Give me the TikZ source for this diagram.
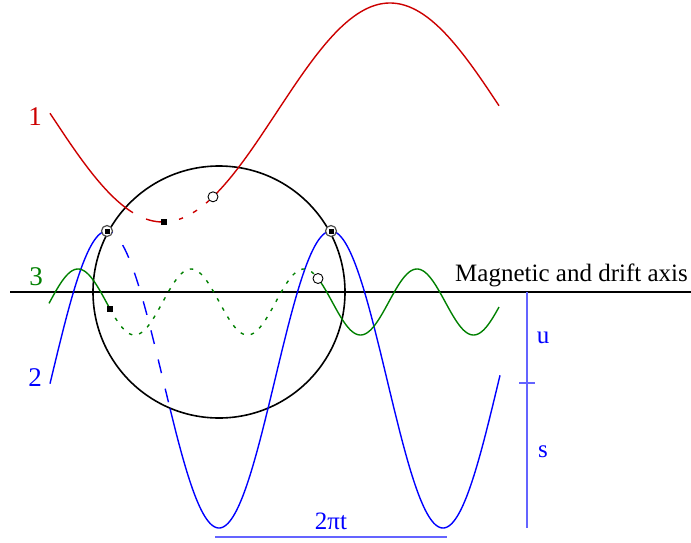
\documentclass[tikz,border=0pt]{standalone}
\usepackage{fontspec}
\setmainfont{Liberation Serif}
\definecolor{cred}{RGB}{204,0,0}
\definecolor{cgreen}{RGB}{0,128,0}
\definecolor{cblue}{RGB}{0,0,255}
\definecolor{cscale}{RGB}{100,100,255}
\begin{document}
\begin{tikzpicture}[x=1pt,y=-1pt,
  declare function={
    redf(\t)=112.5+109.5*cos((\t-163)*0.79295);
    bluef(\t)=379.5-148.5*cos((\t-107)*1.60714);
    greenf(\t)=302-33*cos((\t-78)*3.18584);
  },
  curve/.style={line width=1.4pt,smooth,line join=round},
  lbl/.style={font=\fontsize{25}{30}\selectfont,inner sep=0pt},
  numlbl/.style={font=\fontsize{27}{32}\selectfont,inner sep=0pt},
  sqmark/.style={fill=black,draw=none,minimum size=6pt,inner sep=0pt,rectangle},
  openmark/.style={circle,draw=black,line width=0.9pt,fill=white,minimum size=10pt,inner sep=0pt},
  ringmark/.style={circle,draw=black!70,line width=1.2pt,fill=white,minimum size=11pt,inner sep=0pt},
  greendots/.style={dash pattern=on 3.5pt off 7pt},
]
\useasboundingbox (0,0) rectangle (691,542);

% axis
\coordinate (axL) at (10,292);
\coordinate (axR) at (691,292);
\draw[line width=1.5pt] (axL) -- (axR);

% circle
\node[circle,draw=black,line width=1.6pt,minimum size=252pt,inner sep=0pt] (orbit) at (219,292) {};

% red curve (1)
\draw[cred,curve] plot[domain=50:133,samples=60] (\x,{redf(\x)});
\draw[cred,curve] plot[domain=146:164,samples=20] (\x,{redf(\x)});
\foreach \a/\b in {179/183,193/197,206/209}
  \draw[cred,curve] plot[domain=\a:\b,samples=5] (\x,{redf(\x)});
\draw[cred,curve] plot[domain=213:499,samples=150] (\x,{redf(\x)});

% blue curve (2)
\draw[cblue,curve] plot[domain=50:107,samples=50] (\x,{bluef(\x)});
\draw[cblue,curve,dash pattern=on 14pt off 16pt,dash phase=-22pt] plot[domain=107:170,samples=60] (\x,{bluef(\x)});
\draw[cblue,curve] plot[domain=170:500,samples=200] (\x,{bluef(\x)});

% green curve (3)
\draw[cgreen,curve] plot[domain=49:110,samples=50] (\x,{greenf(\x)});
\draw[cgreen,curve,greendots] plot[domain=110:318,samples=150] (\x,{greenf(\x)});
\draw[cgreen,curve] plot[domain=318:499,samples=150] (\x,{greenf(\x)});

% markers
\node[sqmark] (rsq) at (164,{redf(164)}) {};
\node[openmark] (rci) at (213,{redf(213)}) {};
\node[sqmark] (gsq) at (110,{greenf(110)}) {};
\node[openmark] (gci) at (318,{greenf(318)}) {};
\node[ringmark] (bp1) at (107,231) {};
\node[sqmark,minimum size=5pt] (bq1) at (bp1) {};
\node[ringmark] (bp2) at (331,231) {};
\node[sqmark,minimum size=5pt] (bq2) at (bp2) {};

% labels
\node[numlbl,text=cred] (l1) at (35,117) {1};
\node[numlbl,text=cgreen] (l3) at (36,277) {3};
\node[numlbl,text=cblue] (l2) at (35,378) {2};
\node[lbl,anchor=base east] (axlbl) at (688,281) {Magnetic and drift axis};

% scale
\coordinate (sTop) at (527,292);
\coordinate (sMid) at (527,383);
\coordinate (sBot) at (527,528);
\coordinate (tkL) at (519,383);
\coordinate (tkR) at (535,383);
\draw[cscale,line width=1.3pt] (sTop) -- (sBot);
\draw[cscale,line width=1.3pt] (tkL) -- (tkR);
\node[lbl,text=cblue,anchor=base] (lu) at (543,343) {u};
\node[lbl,text=cblue,anchor=base] (ls) at (543,457) {s};

\coordinate (pL) at (215,537);
\coordinate (pR) at (447,537);
\draw[cscale,line width=1.3pt] (pL) -- (pR);
\node[lbl,text=cblue,anchor=base] (lp) at (331,529) {2πt};
\end{tikzpicture}
\end{document}
